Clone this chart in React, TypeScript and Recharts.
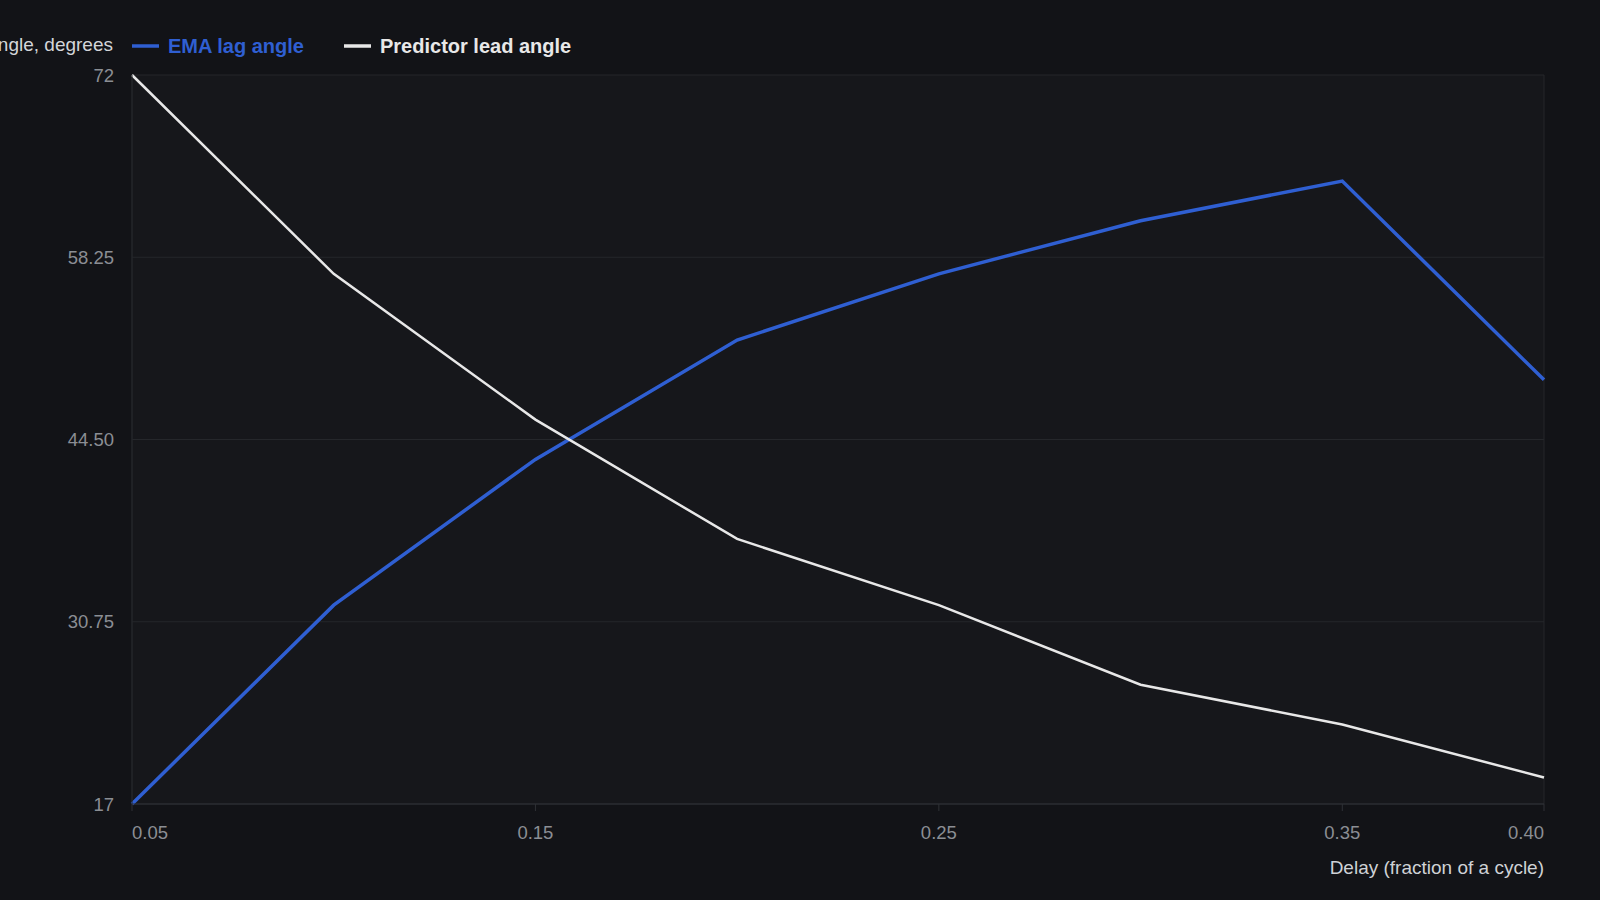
import { LineChart, Line, XAxis, YAxis, CartesianGrid, Legend } from 'recharts';

const delays = [0.05, 0.1, 0.15, 0.2, 0.25, 0.3, 0.35, 0.4];
const emaLag = [17, 32, 43, 52, 57, 61, 64, 49];
const predictorLead = [72, 57, 46, 37, 32, 26, 23, 19];
const xTicks = [0.05, 0.15, 0.25, 0.35, 0.4];
const yTicks = [17, 30.75, 44.5, 58.25, 72];

const BLUE = '#2f5fd2';
const WHITE = '#e8e8e8';
const FONT = '"Liberation Sans", Arial, sans-serif';

const chartData = delays.map((d, i) => ({ delay: d, ema: emaLag[i], lead: predictorLead[i] }));

const fmtY = (v: number) => (Number.isInteger(v) ? String(v) : v.toFixed(2));

function XTick(props: any) {
  const { x, y, payload, index } = props;
  const last = index === xTicks.length - 1;
  const anchor = index === 0 ? 'start' : last ? 'end' : 'middle';
  return (
    <text x={x} y={y} dy={26} textAnchor={anchor} fill="#8b8e94" fontSize={18.5} fontFamily={FONT}>
      {payload.value.toFixed(2)}
    </text>
  );
}

function LegendContent() {
  const items = [
    { name: 'EMA lag angle', color: BLUE, w: 212 },
    { name: 'Predictor lead angle', color: WHITE, w: 220 }
  ];
  let x = 0;
  return (
    <svg width={500} height={30} style={{ display: 'block' }}>
      {items.map(it => {
        const x0 = x;
        x += it.w;
        return (
          <g key={it.name}>
            <line x1={x0} x2={x0 + 27} y1={15} y2={15} stroke={it.color} strokeWidth={3.5} />
            <text x={x0 + 36} y={22} fill={it.color} fontSize={20} fontWeight="bold" fontFamily={FONT}>
              {it.name}
            </text>
          </g>
        );
      })}
    </svg>
  );
}

export default function App() {
  return (
    <div style={{ position: 'absolute', left: 0, top: 0, width: 1600, height: 900, background: '#121317', overflow: 'hidden' }}>
      <LineChart width={1600} height={900} data={chartData} margin={{ top: 45, right: 56, bottom: 0, left: 0 }}>
        <CartesianGrid
          stroke="#25272b"
          fill="#16171b"
          verticalCoordinatesGenerator={(p: any) => [p.offset.left, p.offset.left + p.offset.width]}
        />
        <XAxis
          dataKey="delay"
          type="number"
          domain={[0.05, 0.4]}
          ticks={xTicks}
          height={96}
          stroke="#2f3136"
          tickSize={7}
          tick={<XTick />}
          label={(p: any) => {
            const vb = p.viewBox;
            return (
              <text x={vb.x + vb.width} y={vb.y + 70} textAnchor="end" fill="#cfd2d6" fontSize={19} fontFamily={FONT}>
                Delay (fraction of a cycle)
              </text>
            );
          }}
        />
        <YAxis
          type="number"
          domain={[17, 72]}
          ticks={yTicks}
          width={132}
          stroke="#25272b"
          tickLine={false}
          tickMargin={12}
          tickFormatter={fmtY}
          tick={{ fill: '#8b8e94', fontSize: 18.5, fontFamily: FONT }}
          label={(p: any) => {
            const vb = p.viewBox;
            return (
              <text x={vb.x + vb.width - 19} y={51} textAnchor="end" fill="#d4d6da" fontSize={19} fontFamily={FONT}>
                Angle, degrees
              </text>
            );
          }}
        />
        <Legend
          verticalAlign="top"
          align="left"
          content={<LegendContent />}
          wrapperStyle={{ position: 'absolute', left: 132, top: 31, width: 500 }}
        />
        <Line dataKey="ema" stroke={BLUE} strokeWidth={3.5} dot={false} isAnimationActive={false} />
        <Line dataKey="lead" stroke={WHITE} strokeWidth={2.5} dot={false} isAnimationActive={false} />
      </LineChart>
    </div>
  );
}
